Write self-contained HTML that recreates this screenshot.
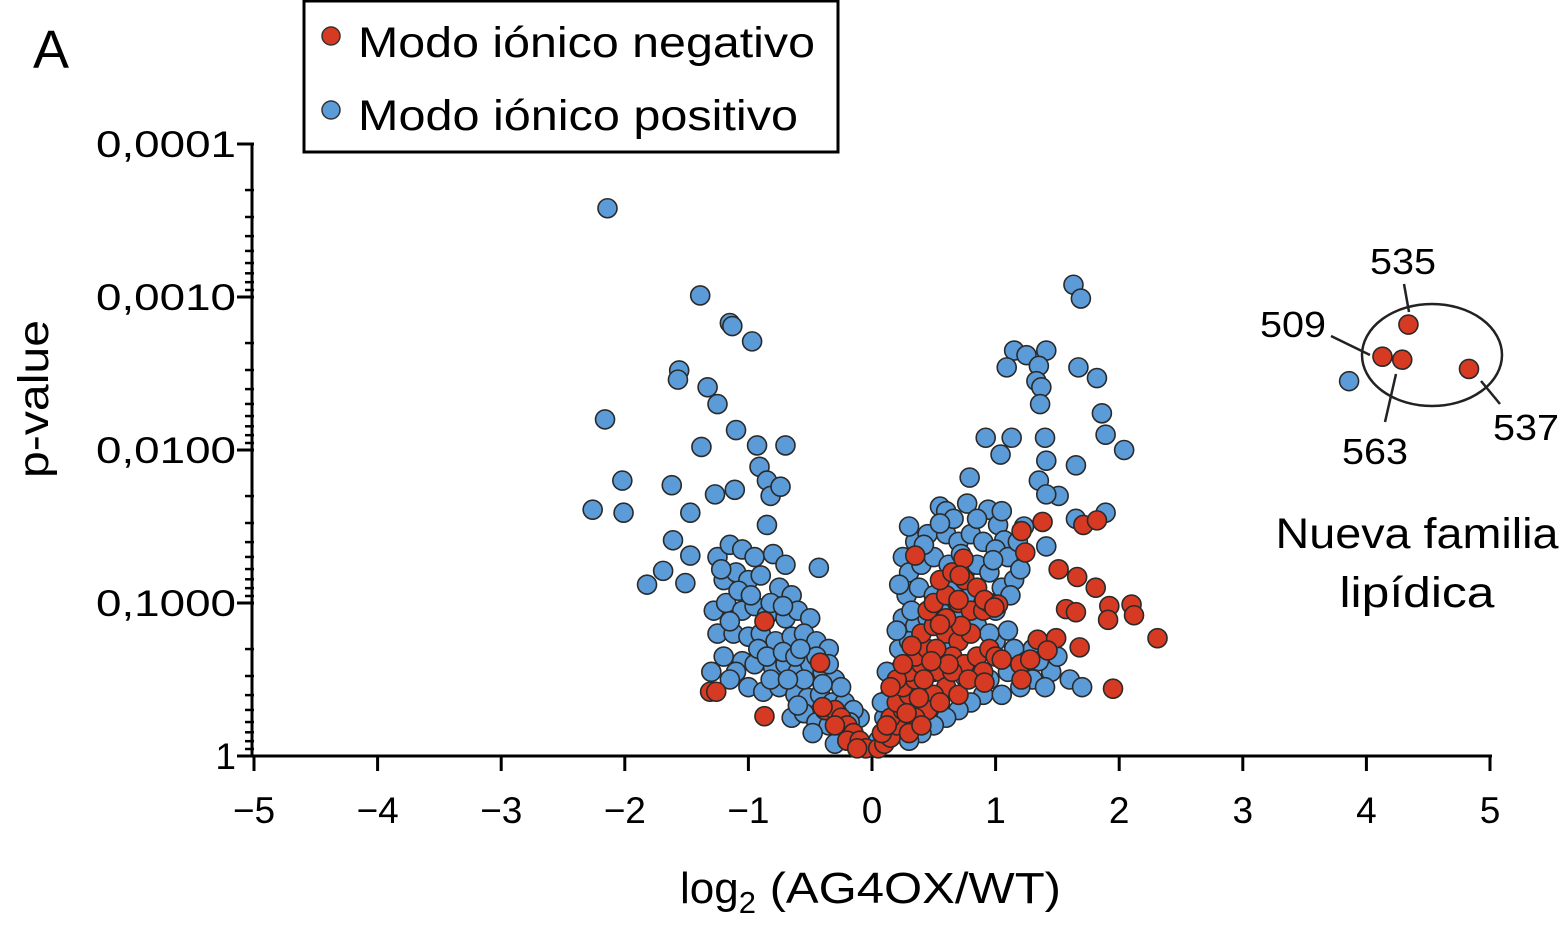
<!DOCTYPE html>
<html><head><meta charset="utf-8"><style>
html,body{margin:0;padding:0;background:#fff;}
svg{display:block;font-family:"Liberation Sans",Arial,sans-serif;}
</style></head><body>
<svg id="chart" width="1564" height="931" viewBox="0 0 1564 931" xmlns="http://www.w3.org/2000/svg">
<text x="33" y="68" font-size="54">A</text>
<g>
<rect x="304" y="1" width="534" height="151" fill="#fff" stroke="#000" stroke-width="3"/>
<g><circle cx="331" cy="36" r="9" fill="#d63a22" stroke="#333" stroke-width="1.5"/><text x="358" y="57" font-size="43" textLength="457" lengthAdjust="spacingAndGlyphs">Modo iónico negativo</text></g>
<g><circle cx="331" cy="110" r="9" fill="#5b9bd8" stroke="#333" stroke-width="1.5"/><text x="358" y="130" font-size="43" textLength="440" lengthAdjust="spacingAndGlyphs">Modo iónico positivo</text></g>
</g>
<g id="axes"></g>
<g id="points"></g>
<g>
<ellipse cx="1432" cy="355" rx="70" ry="51" fill="none" stroke="#222" stroke-width="2.5"/>
<line x1="1404" y1="284" x2="1409" y2="312" stroke="#222" stroke-width="2.5"/>
<line x1="1331" y1="336" x2="1370" y2="355" stroke="#222" stroke-width="2.5"/>
<line x1="1385" y1="422" x2="1396" y2="374" stroke="#222" stroke-width="2.5"/>
<line x1="1481" y1="381" x2="1500" y2="404" stroke="#222" stroke-width="2.5"/>
<text x="1403" y="274" font-size="36" text-anchor="middle" textLength="66" lengthAdjust="spacingAndGlyphs">535</text>
<text x="1293" y="337" font-size="36" text-anchor="middle" textLength="66" lengthAdjust="spacingAndGlyphs">509</text>
<text x="1375" y="464" font-size="36" text-anchor="middle" textLength="66" lengthAdjust="spacingAndGlyphs">563</text>
<text x="1526" y="440" font-size="36" text-anchor="middle" textLength="66" lengthAdjust="spacingAndGlyphs">537</text>
<text x="1417" y="548" font-size="43" text-anchor="middle" textLength="283" lengthAdjust="spacingAndGlyphs">Nueva familia</text>
<text x="1417" y="607" font-size="43" text-anchor="middle" textLength="155" lengthAdjust="spacingAndGlyphs">lipídica</text>
</g>
<text x="680" y="903" font-size="44"><tspan>log</tspan><tspan font-size="31" dy="10">2</tspan><tspan dy="-10" textLength="305" lengthAdjust="spacingAndGlyphs"> (AG4OX/WT)</tspan></text>
<text transform="translate(48,399) rotate(-90)" font-size="43" text-anchor="middle" textLength="158" lengthAdjust="spacingAndGlyphs">p-value</text>
</svg>
<script>
const xTicks=[-5,-4,-3,-2,-1,0,1,2,3,4,5];
const xTickLabels=["\u22125","\u22124","\u22123","\u22122","\u22121","0","1","2","3","4","5"];
const yTicks=[0.0001,0.001,0.01,0.1,1];
const yTickLabels=["0,0001","0,0010","0,0100","0,1000","1"];
// [log2FC, -log10(p)]
const bluePoints=[[-2.14,3.58],[-1.39,3.01],[-1.15,2.83],[-1.13,2.81],[-0.97,2.71],[-1.56,2.52],[-1.57,2.46],[-1.33,2.41],[-1.25,2.3],[-2.16,2.2],[-1.1,2.13],[-0.93,2.03],[-1.38,2.02],[-0.7,2.03],[-0.91,1.89],[-0.85,1.8],[-2.02,1.8],[-1.11,1.74],[-1.62,1.77],[-1.27,1.71],[-2.26,1.61],[-1.47,1.59],[-2.01,1.59],[-0.82,1.7],[-0.74,1.76],[-0.85,1.51],[-1.61,1.41],[-1.47,1.31],[-1.82,1.12],[-1.51,1.13],[-1.69,1.21],[-0.43,1.23],
[-1.25,1.3],[-1.15,1.38],[-1.05,1.35],[-0.95,1.3],[-0.8,1.32],[-0.7,1.25],[-1.2,1.15],[-1.1,1.2],[-1.0,1.15],[-0.9,1.18],[-0.75,1.1],[-0.65,1.05],[-1.28,0.95],[-1.18,1.0],[-1.05,0.95],[-0.95,0.98],[-0.85,0.92],[-0.7,0.9],[-0.6,0.95],[-0.5,0.9],[-1.25,0.8],[-1.12,0.8],[-1.0,0.78],[-0.9,0.8],[-0.78,0.75],[-0.65,0.78],[-0.55,0.8],[-0.45,0.75],[-0.35,0.7],[-1.2,0.65],[-1.05,0.62],[-0.95,0.6],[-0.8,0.58],[-0.7,0.6],[-0.6,0.55],[-0.5,0.6],[-0.4,0.55],[-0.3,0.5],[-1.0,0.45],[-0.88,0.42],[-0.75,0.45],[-0.62,0.4],[-0.52,0.38],[-0.42,0.4],[-0.32,0.35],[-0.22,0.35],[-0.65,0.25],[-0.55,0.28],[-0.45,0.22],[-0.35,0.2],[-0.25,0.18],[-0.15,0.15],[-0.1,0.25],[-0.2,0.1],[-0.1,0.08],[-0.48,0.15],[-0.3,0.08],[-0.55,0.5],[-0.45,0.65],[-0.35,0.6],[-0.25,0.45],[-0.15,0.3],
[-1.22,1.22],[-1.08,1.08],[-0.98,1.05],[-0.82,1.0],[-0.72,0.98],[-1.15,0.88],[-0.92,0.7],[-0.85,0.65],[-0.72,0.68],[-0.62,0.65],[-0.58,0.7],[-1.1,0.55],[-0.82,0.5],[-0.68,0.5],[-0.4,0.47],[-0.28,0.28],[-0.38,0.3],[-0.6,0.33],[-0.18,0.22],[-1.15,0.5],[-1.3,0.55],
[1.63,3.08],[1.69,2.99],[1.15,2.65],[1.25,2.62],[1.41,2.65],[1.35,2.55],[1.09,2.54],[1.67,2.54],[1.82,2.47],[1.33,2.45],[1.37,2.41],[1.36,2.3],[1.86,2.24],[1.4,2.08],[1.89,2.1],[2.04,2.0],[0.92,2.08],[1.13,2.08],[1.04,1.97],[1.41,1.93],[1.65,1.9],[0.79,1.82],[1.35,1.8],[1.51,1.7],[1.41,1.71],[1.89,1.59],[0.55,1.63],[0.77,1.65],[0.94,1.61],[1.02,1.51],[1.65,1.55],[1.23,1.5],[1.07,1.41],[1.41,1.37],
[0.25,1.3],[0.35,1.4],[0.45,1.45],[0.6,1.45],[0.7,1.4],[0.8,1.45],[0.9,1.4],[1.0,1.35],[1.1,1.3],[0.3,1.2],[0.4,1.25],[0.5,1.3],[0.62,1.25],[0.75,1.2],[0.85,1.25],[0.95,1.2],[1.05,1.1],[1.15,1.15],[0.28,1.05],[0.38,1.1],[0.5,1.05],[0.65,1.08],[0.8,1.05],[0.9,1.0],[1.0,0.95],[0.25,0.9],[0.35,0.85],[0.45,0.9],[0.55,0.95],[0.7,0.9],[0.85,0.85],[0.22,0.7],[0.3,0.75],[0.4,0.7],[0.2,0.55],[0.28,0.6],[0.35,0.55],[0.15,0.4],[0.22,0.45],[0.1,0.25],[0.18,0.3],[0.05,0.1],[0.95,0.5],[1.1,0.55],[1.2,0.6],[1.3,0.5],[1.45,0.55],[1.6,0.5],[1.2,0.45],[1.4,0.45],[0.9,0.4],[1.05,0.4],[1.5,0.65],[1.3,0.7],[0.8,0.35],[0.7,0.3],[0.6,0.25],[0.5,0.2],[0.4,0.15],[0.3,0.1],[1.7,0.45],[1.15,0.7],[1.0,0.75],[0.45,0.3],[0.35,0.3],[0.4,0.45],[0.5,0.55],[0.25,0.2],[0.15,0.12],[0.6,1.6],[0.66,1.55],[0.3,1.5],[0.55,1.52],
[0.42,1.38],[0.72,1.32],[0.98,1.28],[1.2,1.22],[1.12,1.05],[0.2,0.82],[0.32,0.95],[0.6,0.72],[0.95,0.8],[1.1,0.82],[1.25,0.62],[0.75,0.52],[1.35,0.62],[0.22,1.12],[0.85,1.55],[1.05,1.6],[1.18,1.4],[0.12,0.55],[0.08,0.35],
[3.86,2.45]];
const redPoints=[[-1.31,0.42],[-1.26,0.42],[-0.87,0.88],[-0.87,0.26],[-0.42,0.61],[-0.38,0.3],[-0.3,0.3],[-0.25,0.25],[-0.2,0.2],[-0.15,0.15],[-0.2,0.1],[-0.1,0.1],[-0.05,0.05],[-0.12,0.05],[-0.3,0.2],[-0.4,0.32],
[0.05,0.05],[0.1,0.08],[0.15,0.12],[0.08,0.15],[0.2,0.2],[0.15,0.25],[0.25,0.3],[0.2,0.35],[0.3,0.4],[0.25,0.45],[0.35,0.5],[0.3,0.55],[0.4,0.6],[0.35,0.65],[0.45,0.7],[0.4,0.8],[0.5,0.85],[0.55,0.9],[0.45,0.95],[0.6,0.8],[0.7,0.75],[0.8,0.8],[0.65,0.65],[0.75,0.6],[0.55,0.55],[0.6,0.45],[0.7,0.4],[0.5,0.4],[0.45,0.3],[0.55,0.35],[0.35,0.25],[0.3,0.15],[0.4,0.2],[0.65,0.55],[0.85,0.65],[0.95,0.7],[0.5,1.0],[0.6,1.05],[0.7,1.0],[0.8,0.95],[0.9,0.95],[0.55,1.15],[0.65,1.2],[0.75,1.15],[0.85,1.1],[0.95,1.0],[1.0,0.65],[0.9,0.55],[0.78,0.5],[0.2,0.5],[0.15,0.45],
[0.25,0.6],[0.32,0.72],[0.42,0.5],[0.52,0.7],[0.62,0.6],[0.72,0.85],[0.38,0.38],[0.28,0.28],[0.12,0.2],[0.6,0.9],[0.48,0.62],
[1.38,1.53],[1.71,1.51],[1.82,1.54],[1.21,1.47],[1.24,1.33],[1.51,1.22],[1.66,1.17],[1.81,1.1],[1.57,0.96],[1.65,0.94],[1.92,0.98],[2.1,0.99],[1.91,0.89],[2.12,0.92],[2.31,0.77],[0.91,1.02],[1.02,0.99],[0.99,0.97],[1.34,0.76],[1.49,0.77],[1.68,0.71],[1.95,0.44],[1.05,0.63],[1.2,0.6],[1.28,0.63],[1.42,0.69],[1.21,0.5],[0.91,0.48],[0.7,1.02],[0.55,0.86],[0.74,1.29],[0.35,1.31],[0.71,1.18],
[4.34,2.82],[4.13,2.61],[4.29,2.59],[4.83,2.53]];

const NS="http://www.w3.org/2000/svg";
const X0=254,X1=1490,Y0=756,DEC=153;
function xs(v){return X0+(v+5)*(X1-X0)/10;}
function ys(p){return Y0-(-Math.log10(p))*DEC;}
function ysNeg(n){return Y0-n*DEC;}
function mk(tag,attrs,parent){const e=document.createElementNS(NS,tag);for(const k in attrs)e.setAttribute(k,attrs[k]);parent.appendChild(e);return e;}
const ax=document.getElementById('axes');
let l=mk('line',{x1:X0-2,y1:Y0,x2:X1+2,y2:Y0,stroke:'#000','stroke-width':3},ax);


l=mk('line',{x1:X0-2,y1:ys(0.0001)-1,x2:X0-2,y2:Y0+1,stroke:'#000','stroke-width':3},ax);


xTicks.forEach((t,i)=>{
  const x=xs(t);
  const tk=mk('line',{x1:x,y1:Y0,x2:x,y2:Y0+15,stroke:'#000','stroke-width':3},ax);
  
  
  const tx=mk('text',{x:x,y:823,'font-size':37,'text-anchor':'middle'},ax);
  tx.textContent=xTickLabels[i];
  
  
});
yTicks.forEach((t,i)=>{
  const y=ys(t);
  const tk=mk('line',{x1:X0-17,y1:y,x2:X0,y2:y,stroke:'#000','stroke-width':3},ax);
  
  
  const attrs={x:236,y:y+13,'font-size':37,'text-anchor':'end'};
  if(yTickLabels[i].length>2){attrs.textLength=140;attrs.lengthAdjust='spacingAndGlyphs';}
  const tx=mk('text',attrs,ax);
  tx.textContent=yTickLabels[i];
  
  
  if(i<yTicks.length-1){
    for(let m=2;m<=9;m++){
      const ym=ys(t*m);
      const mt=mk('line',{x1:X0-9,y1:ym,x2:X0,y2:ym,stroke:'#000','stroke-width':2.5},ax);
      
      
    }
  }
});
const pg=document.getElementById('points');
function draw(arr,color,name){
  arr.forEach(d=>{
    const c=mk('circle',{cx:xs(d[0]),cy:ysNeg(d[1]),r:9.5,fill:color,stroke:'#2a2a2a','stroke-width':1.6},pg);
    
    
  });
}
draw(bluePoints,'#5b9bd8','positive-mode-point');
draw(redPoints,'#d63a22','negative-mode-point');
</script>
</body></html>
